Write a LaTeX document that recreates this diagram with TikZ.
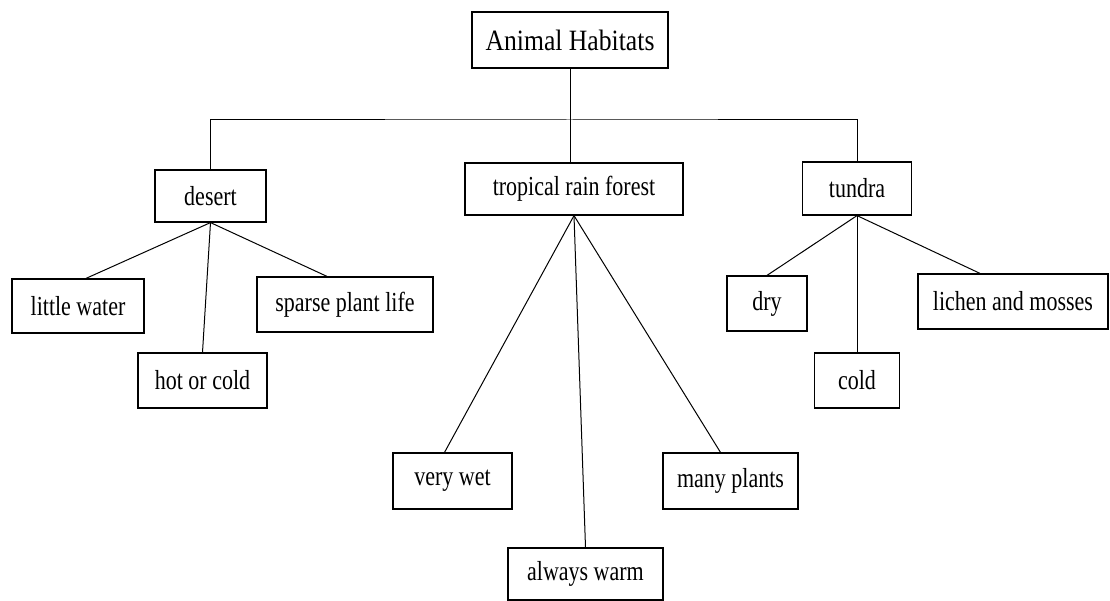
\documentclass[tikz,border=0pt]{standalone}
\usepackage{fontspec}
\setmainfont{Liberation Serif}
\newfontfamily\boxfont[FakeStretch=0.8]{Liberation Serif}
\newfontfamily\titlefont[FakeStretch=0.87]{Liberation Serif}
\usetikzlibrary{calc, positioning}

\begin{document}
\begin{tikzpicture}
		[x=1pt, y=-1pt,
		 box/.style={draw, line width=1.2, inner sep=0, text centered, font=\boxfont\fontsize{27.5}{32}\selectfont},
		 link/.style={line width=1}]
	
		\useasboundingbox (0,0) rectangle (1110,601);
	
		% nodes %
		\node[box, minimum width=196, minimum height=56, font=\titlefont\fontsize{29.5}{34}\selectfont] (hab) at (570,40) {Animal Habitats};
		\node[box, minimum width=111, minimum height=52] (desert) at (210.5,196) {desert};
		\node[box, minimum width=218, minimum height=52] (forest) at (574,189) {tropical rain forest};
		\node[box, minimum width=109, minimum height=53] (tundra) at (857,188.5) {tundra};
		
		\node[box, minimum width=132, minimum height=54] (water) at (78,306) {little water};
		\node[box, minimum width=129, minimum height=55] (hotcold) at (202.5,380.5) {hot or cold};
		\node[box, minimum width=176, minimum height=55] (sparse) at (345,304.5) {sparse plant life};
		
		\node[box, minimum width=119, minimum height=56] (wet) at (452.5,481) {very wet};
		\node[box, minimum width=155, minimum height=52] (warm) at (585.5,574) {always warm};
		\node[box, minimum width=135, minimum height=56] (plants) at (730.5,481) {many plants};
		
		\node[box, minimum width=80, minimum height=55] (dry) at (767,303.5) {dry};
		\node[box, minimum width=85, minimum height=55] (cold) at (857,380.5) {cold};
		\node[box, minimum width=190, minimum height=55] (lichen) at (1013,301.5) {lichen and mosses};
		
		\coordinate (bus) at (hab.south |- 0,120);
	 
		% edges %
		\draw[link] (hab) -- (bus);
		\draw[link] (desert.north) |- (bus) -| (tundra.north);
		\draw[link] (bus) -- (bus |- forest.north);
		
		\draw[link] (desert.south) -- ([xshift=8]water.north);
		\draw[link] (desert.south) -- (hotcold.north);
		\draw[link] (desert.south) -- ([xshift=-18]sparse.north);
		
		\draw[link] (forest.south) -- ([xshift=-8]wet.north);
		\draw[link] (forest.south) -- (warm.north);
		\draw[link] (forest.south) -- ([xshift=-10]plants.north);
		
		\draw[link] (tundra.south) -- (dry.north);
		\draw[link] (tundra.south) -- (cold.north);
		\draw[link] (tundra.south) -- ([xshift=-33]lichen.north);
		
		\end{tikzpicture}
\end{document}
